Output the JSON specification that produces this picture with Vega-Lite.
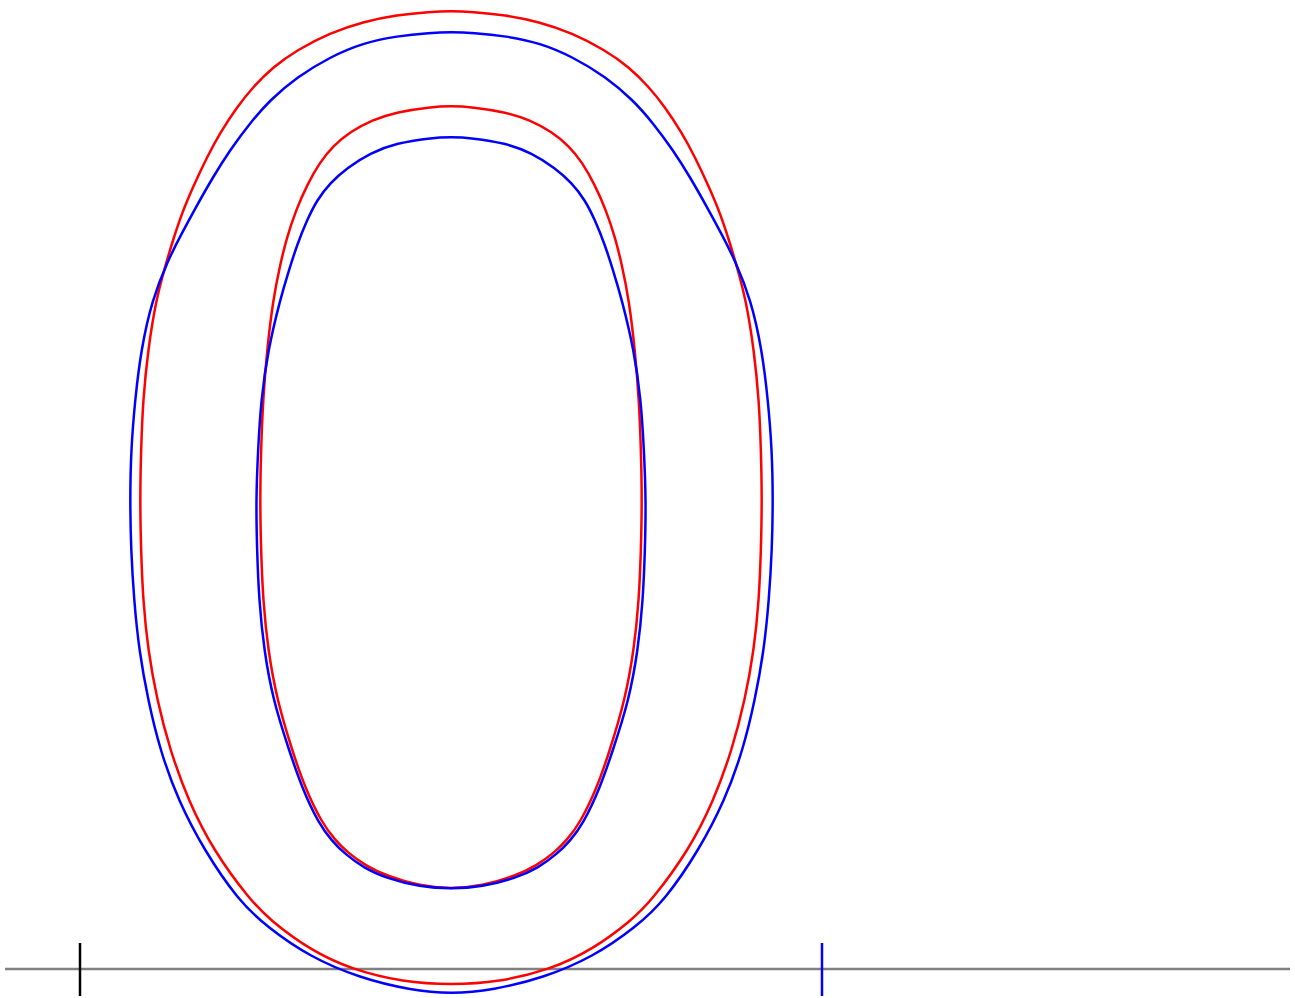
{
  "$schema": "https://vega.github.io/schema/vega-lite/v6.json",
  "width": 1295,
  "height": 998,
  "autosize": {"type": "fit", "contains": "padding"},
  "padding": 0,
  "background": "white",
  "config": {"view": {"stroke": null}},
  "datasets": {
    "contours": [
      {"c":"ro","s":"red","i":0,"x":140,"y":500},{"c":"ro","s":"red","i":1,"x":141,"y":550},{"c":"ro","s":"red","i":2,"x":143,"y":600},{"c":"ro","s":"red","i":3,"x":148,"y":650},{"c":"ro","s":"red","i":4,"x":157,"y":700},{"c":"ro","s":"red","i":5,"x":170,"y":750},{"c":"ro","s":"red","i":6,"x":188,"y":800},{"c":"ro","s":"red","i":7,"x":213,"y":850},{"c":"ro","s":"red","i":8,"x":250,"y":900},{"c":"ro","s":"red","i":9,"x":270,"y":920},{"c":"ro","s":"red","i":10,"x":310,"y":950},{"c":"ro","s":"red","i":11,"x":353,"y":970},{"c":"ro","s":"red","i":12,"x":403,"y":982},{"c":"ro","s":"red","i":13,"x":451,"y":985},{"c":"ro","s":"red","i":14,"x":499,"y":982},{"c":"ro","s":"red","i":15,"x":549,"y":970},{"c":"ro","s":"red","i":16,"x":592,"y":950},{"c":"ro","s":"red","i":17,"x":632,"y":920},{"c":"ro","s":"red","i":18,"x":652,"y":900},{"c":"ro","s":"red","i":19,"x":689,"y":850},{"c":"ro","s":"red","i":20,"x":714,"y":800},{"c":"ro","s":"red","i":21,"x":732,"y":750},{"c":"ro","s":"red","i":22,"x":745,"y":700},{"c":"ro","s":"red","i":23,"x":754,"y":650},{"c":"ro","s":"red","i":24,"x":759,"y":600},{"c":"ro","s":"red","i":25,"x":761,"y":550},{"c":"ro","s":"red","i":26,"x":762,"y":500},{"c":"ro","s":"red","i":27,"x":761,"y":450},{"c":"ro","s":"red","i":28,"x":759,"y":400},{"c":"ro","s":"red","i":29,"x":754,"y":350},{"c":"ro","s":"red","i":30,"x":746,"y":300},{"c":"ro","s":"red","i":31,"x":737,"y":267},{"c":"ro","s":"red","i":32,"x":729,"y":240},{"c":"ro","s":"red","i":33,"x":720,"y":213},{"c":"ro","s":"red","i":34,"x":709,"y":187},{"c":"ro","s":"red","i":35,"x":695,"y":157},{"c":"ro","s":"red","i":36,"x":682,"y":133},{"c":"ro","s":"red","i":37,"x":665,"y":107},{"c":"ro","s":"red","i":38,"x":649,"y":87},{"c":"ro","s":"red","i":39,"x":629,"y":67},{"c":"ro","s":"red","i":40,"x":605,"y":50},{"c":"ro","s":"red","i":41,"x":572,"y":33},{"c":"ro","s":"red","i":42,"x":539,"y":21.7},{"c":"ro","s":"red","i":43,"x":505,"y":15},{"c":"ro","s":"red","i":44,"x":472,"y":11.7},{"c":"ro","s":"red","i":45,"x":451,"y":11},{"c":"ro","s":"red","i":46,"x":430,"y":11.7},{"c":"ro","s":"red","i":47,"x":397,"y":15},{"c":"ro","s":"red","i":48,"x":363,"y":21.7},{"c":"ro","s":"red","i":49,"x":330,"y":33},{"c":"ro","s":"red","i":50,"x":297,"y":50},{"c":"ro","s":"red","i":51,"x":273,"y":67},{"c":"ro","s":"red","i":52,"x":253,"y":87},{"c":"ro","s":"red","i":53,"x":237,"y":107},{"c":"ro","s":"red","i":54,"x":220,"y":133},{"c":"ro","s":"red","i":55,"x":207,"y":157},{"c":"ro","s":"red","i":56,"x":193,"y":187},{"c":"ro","s":"red","i":57,"x":182,"y":213},{"c":"ro","s":"red","i":58,"x":173,"y":240},{"c":"ro","s":"red","i":59,"x":165,"y":267},{"c":"ro","s":"red","i":60,"x":156,"y":300},{"c":"ro","s":"red","i":61,"x":148,"y":350},{"c":"ro","s":"red","i":62,"x":143,"y":400},{"c":"ro","s":"red","i":63,"x":141,"y":450},

      {"c":"bo","s":"blue","i":0,"x":130,"y":500},{"c":"bo","s":"blue","i":1,"x":131,"y":550},{"c":"bo","s":"blue","i":2,"x":134,"y":600},{"c":"bo","s":"blue","i":3,"x":139,"y":650},{"c":"bo","s":"blue","i":4,"x":148,"y":700},{"c":"bo","s":"blue","i":5,"x":160,"y":750},{"c":"bo","s":"blue","i":6,"x":178,"y":800},{"c":"bo","s":"blue","i":7,"x":204,"y":850},{"c":"bo","s":"blue","i":8,"x":238,"y":900},{"c":"bo","s":"blue","i":9,"x":267,"y":927},{"c":"bo","s":"blue","i":10,"x":310,"y":957},{"c":"bo","s":"blue","i":11,"x":360,"y":978},{"c":"bo","s":"blue","i":12,"x":410,"y":990},{"c":"bo","s":"blue","i":13,"x":451.5,"y":994},{"c":"bo","s":"blue","i":14,"x":493,"y":990},{"c":"bo","s":"blue","i":15,"x":543,"y":978},{"c":"bo","s":"blue","i":16,"x":593,"y":957},{"c":"bo","s":"blue","i":17,"x":636,"y":927},{"c":"bo","s":"blue","i":18,"x":665,"y":900},{"c":"bo","s":"blue","i":19,"x":699,"y":850},{"c":"bo","s":"blue","i":20,"x":725,"y":800},{"c":"bo","s":"blue","i":21,"x":743,"y":750},{"c":"bo","s":"blue","i":22,"x":755,"y":700},{"c":"bo","s":"blue","i":23,"x":764,"y":650},{"c":"bo","s":"blue","i":24,"x":769,"y":600},{"c":"bo","s":"blue","i":25,"x":772,"y":550},{"c":"bo","s":"blue","i":26,"x":773,"y":500},{"c":"bo","s":"blue","i":27,"x":772,"y":450},{"c":"bo","s":"blue","i":28,"x":768,"y":400},{"c":"bo","s":"blue","i":29,"x":762,"y":350},{"c":"bo","s":"blue","i":30,"x":751,"y":300},{"c":"bo","s":"blue","i":31,"x":735,"y":260},{"c":"bo","s":"blue","i":32,"x":721,"y":233},{"c":"bo","s":"blue","i":33,"x":707,"y":207},{"c":"bo","s":"blue","i":34,"x":690,"y":177},{"c":"bo","s":"blue","i":35,"x":673,"y":150},{"c":"bo","s":"blue","i":36,"x":653,"y":123},{"c":"bo","s":"blue","i":37,"x":633,"y":100},{"c":"bo","s":"blue","i":38,"x":606,"y":77},{"c":"bo","s":"blue","i":39,"x":573,"y":57},{"c":"bo","s":"blue","i":40,"x":540,"y":43},{"c":"bo","s":"blue","i":41,"x":506,"y":36},{"c":"bo","s":"blue","i":42,"x":473,"y":32.7},{"c":"bo","s":"blue","i":43,"x":451.5,"y":32},{"c":"bo","s":"blue","i":44,"x":430,"y":32.7},{"c":"bo","s":"blue","i":45,"x":397,"y":36},{"c":"bo","s":"blue","i":46,"x":363,"y":43},{"c":"bo","s":"blue","i":47,"x":330,"y":57},{"c":"bo","s":"blue","i":48,"x":297,"y":77},{"c":"bo","s":"blue","i":49,"x":270,"y":100},{"c":"bo","s":"blue","i":50,"x":250,"y":123},{"c":"bo","s":"blue","i":51,"x":230,"y":150},{"c":"bo","s":"blue","i":52,"x":213,"y":177},{"c":"bo","s":"blue","i":53,"x":196,"y":207},{"c":"bo","s":"blue","i":54,"x":182,"y":233},{"c":"bo","s":"blue","i":55,"x":168,"y":260},{"c":"bo","s":"blue","i":56,"x":152,"y":300},{"c":"bo","s":"blue","i":57,"x":141,"y":350},{"c":"bo","s":"blue","i":58,"x":135,"y":400},{"c":"bo","s":"blue","i":59,"x":131,"y":450},

      {"c":"ri","s":"red","i":0,"x":260,"y":500},{"c":"ri","s":"red","i":1,"x":261,"y":550},{"c":"ri","s":"red","i":2,"x":263,"y":600},{"c":"ri","s":"red","i":3,"x":268,"y":650},{"c":"ri","s":"red","i":4,"x":277,"y":700},{"c":"ri","s":"red","i":5,"x":292,"y":750},{"c":"ri","s":"red","i":6,"x":305,"y":788},{"c":"ri","s":"red","i":7,"x":322,"y":823},{"c":"ri","s":"red","i":8,"x":335,"y":840},{"c":"ri","s":"red","i":9,"x":347,"y":852},{"c":"ri","s":"red","i":10,"x":366,"y":866},{"c":"ri","s":"red","i":11,"x":387,"y":876},{"c":"ri","s":"red","i":12,"x":420,"y":886},{"c":"ri","s":"red","i":13,"x":451,"y":889},{"c":"ri","s":"red","i":14,"x":482,"y":886},{"c":"ri","s":"red","i":15,"x":515,"y":876},{"c":"ri","s":"red","i":16,"x":536,"y":866},{"c":"ri","s":"red","i":17,"x":555,"y":852},{"c":"ri","s":"red","i":18,"x":567,"y":840},{"c":"ri","s":"red","i":19,"x":580,"y":823},{"c":"ri","s":"red","i":20,"x":597,"y":788},{"c":"ri","s":"red","i":21,"x":610,"y":750},{"c":"ri","s":"red","i":22,"x":625,"y":700},{"c":"ri","s":"red","i":23,"x":634,"y":650},{"c":"ri","s":"red","i":24,"x":639,"y":600},{"c":"ri","s":"red","i":25,"x":641,"y":550},{"c":"ri","s":"red","i":26,"x":642,"y":500},{"c":"ri","s":"red","i":27,"x":641,"y":450},{"c":"ri","s":"red","i":28,"x":639,"y":400},{"c":"ri","s":"red","i":29,"x":635,"y":350},{"c":"ri","s":"red","i":30,"x":629,"y":300},{"c":"ri","s":"red","i":31,"x":622,"y":265},{"c":"ri","s":"red","i":32,"x":615,"y":237},{"c":"ri","s":"red","i":33,"x":606,"y":210},{"c":"ri","s":"red","i":34,"x":595,"y":185},{"c":"ri","s":"red","i":35,"x":582,"y":162},{"c":"ri","s":"red","i":36,"x":569,"y":146},{"c":"ri","s":"red","i":37,"x":552,"y":132},{"c":"ri","s":"red","i":38,"x":530,"y":120},{"c":"ri","s":"red","i":39,"x":505,"y":112},{"c":"ri","s":"red","i":40,"x":472,"y":107},{"c":"ri","s":"red","i":41,"x":451,"y":106},{"c":"ri","s":"red","i":42,"x":430,"y":107},{"c":"ri","s":"red","i":43,"x":397,"y":112},{"c":"ri","s":"red","i":44,"x":372,"y":120},{"c":"ri","s":"red","i":45,"x":350,"y":132},{"c":"ri","s":"red","i":46,"x":333,"y":146},{"c":"ri","s":"red","i":47,"x":320,"y":162},{"c":"ri","s":"red","i":48,"x":307,"y":185},{"c":"ri","s":"red","i":49,"x":296,"y":210},{"c":"ri","s":"red","i":50,"x":287,"y":237},{"c":"ri","s":"red","i":51,"x":280,"y":265},{"c":"ri","s":"red","i":52,"x":273,"y":300},{"c":"ri","s":"red","i":53,"x":267,"y":350},{"c":"ri","s":"red","i":54,"x":263,"y":400},{"c":"ri","s":"red","i":55,"x":261,"y":450},

      {"c":"bi","s":"blue","i":0,"x":256,"y":500},{"c":"bi","s":"blue","i":1,"x":257,"y":550},{"c":"bi","s":"blue","i":2,"x":259,"y":600},{"c":"bi","s":"blue","i":3,"x":264,"y":650},{"c":"bi","s":"blue","i":4,"x":273,"y":700},{"c":"bi","s":"blue","i":5,"x":289,"y":750},{"c":"bi","s":"blue","i":6,"x":302,"y":788},{"c":"bi","s":"blue","i":7,"x":319,"y":824},{"c":"bi","s":"blue","i":8,"x":332,"y":841},{"c":"bi","s":"blue","i":9,"x":345,"y":854},{"c":"bi","s":"blue","i":10,"x":364,"y":868},{"c":"bi","s":"blue","i":11,"x":386,"y":878},{"c":"bi","s":"blue","i":12,"x":420,"y":887},{"c":"bi","s":"blue","i":13,"x":451,"y":889},{"c":"bi","s":"blue","i":14,"x":482,"y":887},{"c":"bi","s":"blue","i":15,"x":516,"y":878},{"c":"bi","s":"blue","i":16,"x":538,"y":868},{"c":"bi","s":"blue","i":17,"x":557,"y":854},{"c":"bi","s":"blue","i":18,"x":570,"y":841},{"c":"bi","s":"blue","i":19,"x":583,"y":824},{"c":"bi","s":"blue","i":20,"x":600,"y":788},{"c":"bi","s":"blue","i":21,"x":613,"y":750},{"c":"bi","s":"blue","i":22,"x":629,"y":700},{"c":"bi","s":"blue","i":23,"x":638,"y":650},{"c":"bi","s":"blue","i":24,"x":643,"y":600},{"c":"bi","s":"blue","i":25,"x":645,"y":550},{"c":"bi","s":"blue","i":26,"x":646,"y":500},{"c":"bi","s":"blue","i":27,"x":644,"y":450},{"c":"bi","s":"blue","i":28,"x":641,"y":400},{"c":"bi","s":"blue","i":29,"x":634,"y":350},{"c":"bi","s":"blue","i":30,"x":622,"y":300},{"c":"bi","s":"blue","i":31,"x":613,"y":270},{"c":"bi","s":"blue","i":32,"x":605,"y":245},{"c":"bi","s":"blue","i":33,"x":595,"y":220},{"c":"bi","s":"blue","i":34,"x":585,"y":200},{"c":"bi","s":"blue","i":35,"x":572,"y":183},{"c":"bi","s":"blue","i":36,"x":555,"y":168},{"c":"bi","s":"blue","i":37,"x":532,"y":153},{"c":"bi","s":"blue","i":38,"x":505,"y":143},{"c":"bi","s":"blue","i":39,"x":472,"y":138},{"c":"bi","s":"blue","i":40,"x":451,"y":137},{"c":"bi","s":"blue","i":41,"x":430,"y":138},{"c":"bi","s":"blue","i":42,"x":397,"y":143},{"c":"bi","s":"blue","i":43,"x":370,"y":153},{"c":"bi","s":"blue","i":44,"x":347,"y":168},{"c":"bi","s":"blue","i":45,"x":330,"y":183},{"c":"bi","s":"blue","i":46,"x":317,"y":200},{"c":"bi","s":"blue","i":47,"x":307,"y":220},{"c":"bi","s":"blue","i":48,"x":297,"y":245},{"c":"bi","s":"blue","i":49,"x":289,"y":270},{"c":"bi","s":"blue","i":50,"x":280,"y":300},{"c":"bi","s":"blue","i":51,"x":268,"y":350},{"c":"bi","s":"blue","i":52,"x":261,"y":400},{"c":"bi","s":"blue","i":53,"x":258,"y":450}
    ],
    "rules": [
      {"k":"base","col":"#808080","x":5,"y":969,"x2":1290,"y2":969},
      {"k":"t1","col":"#000000","x":80,"y":943,"x2":80,"y2":996},
      {"k":"t2","col":"#0000ff","x":822,"y":943,"x2":822,"y2":996}
    ]
  },
  "layer": [
    {
      "data": {"name": "rules"},
      "mark": {"type": "rule", "strokeWidth": 2.5},
      "encoding": {
        "x": {"field": "x", "type": "quantitative", "scale": {"domain": [0, 1295]}, "axis": null},
        "y": {"field": "y", "type": "quantitative", "scale": {"domain": [998, 0]}, "axis": null},
        "x2": {"field": "x2"},
        "y2": {"field": "y2"},
        "color": {"field": "col", "type": "nominal", "scale": null}
      }
    },
    {
      "data": {"name": "contours"},
      "mark": {"type": "line", "interpolate": "basis-closed", "strokeWidth": 2.5},
      "encoding": {
        "x": {"field": "x", "type": "quantitative", "scale": {"domain": [0, 1295]}, "axis": null},
        "y": {"field": "y", "type": "quantitative", "scale": {"domain": [998, 0]}, "axis": null},
        "order": {"field": "i", "type": "quantitative"},
        "detail": {"field": "c", "type": "nominal"},
        "color": {"field": "s", "type": "nominal", "scale": {"domain": ["red", "blue"], "range": ["#ff0000", "#0000ff"]}, "legend": null}
      }
    }
  ]
}
